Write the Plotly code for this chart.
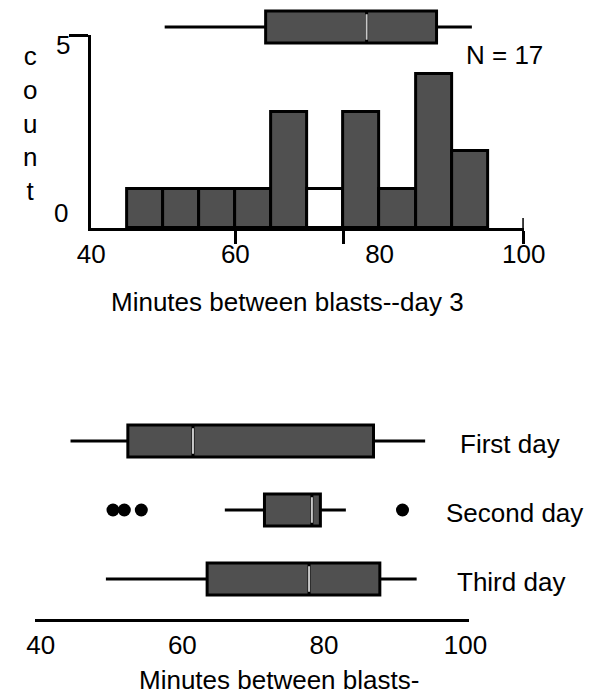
import plotly.graph_objects as go

# ---------------- data ----------------
# Histogram: Minutes between blasts -- day 3
bin_left = [45, 50, 55, 60, 65, 70, 75, 80, 85, 90]
bin_width = 5
counts = [1, 1, 1, 1, 3, 1, 3, 1, 4, 2]
outline_only_bins = [70]          # bin drawn as an empty outline in the original
n_label = "N = 17"

# Box plot above the histogram (day 3)
top_box = dict(lowerfence=50.2, q1=64.2, median=78.2, q3=87.9, upperfence=92.8)

# Box plots for the three days
days = ["First day", "Second day", "Third day"]
lower = [44.2, 66.0, 49.2]
q1 = [52.3, 71.6, 63.5]
median = [61.5, 78.3, 77.9]
q3 = [87.0, 79.5, 87.9]
upper = [94.3, 83.1, 93.1]
outlier_day = ["Second day", "Second day", "Second day", "Second day"]
outlier_val = [50.2, 51.8, 54.2, 91.1]

x_ticks = [40, 60, 80, 100]
hist_tick_marks = [60, 75, 100]

# ---------------- style ----------------
W, H = 606, 695
FONT = "Liberation Sans, Arial, Helvetica, sans-serif"
FS = 26
GRAY = "#505050"
MEDC = "#c8c8c8"


def px(x):
    return x / W


def py(y):
    return 1 - y / H


fig = go.Figure()

# histogram bars
centers = [b + bin_width / 2 for b in bin_left]
colors = ["white" if b in outline_only_bins else GRAY for b in bin_left]
fig.add_trace(go.Bar(
    x=centers, y=counts, width=[bin_width] * len(counts),
    marker=dict(color=colors, line=dict(color="black", width=3)),
    xaxis="x", yaxis="y", showlegend=False, hoverinfo="skip"))

# top box
TOP_W = 0.727
fig.add_trace(go.Box(
    y=[0], q1=[top_box["q1"]], median=[top_box["median"]], q3=[top_box["q3"]],
    lowerfence=[top_box["lowerfence"]], upperfence=[top_box["upperfence"]],
    orientation="h", width=TOP_W, whiskerwidth=0, boxpoints=False,
    fillcolor=GRAY, line=dict(color="black", width=3),
    xaxis="x", yaxis="y3", showlegend=False, hoverinfo="skip"))
fig.add_trace(go.Scatter(
    x=[top_box["median"]] * 2, y=[-TOP_W / 2 * 0.8, TOP_W / 2 * 0.8],
    mode="lines", line=dict(color=MEDC, width=2),
    xaxis="x", yaxis="y3", showlegend=False, hoverinfo="skip"))

# bottom boxes
BOX_W = 0.464
pos = list(range(len(days)))
fig.add_trace(go.Box(
    y=pos, q1=q1, median=median, q3=q3, lowerfence=lower, upperfence=upper,
    orientation="h", width=BOX_W, whiskerwidth=0, boxpoints=False,
    fillcolor=GRAY, line=dict(color="black", width=3),
    xaxis="x2", yaxis="y2", showlegend=False, hoverinfo="skip"))
mx, my = [], []
for i, m in enumerate(median):
    mx += [m, m, None]
    my += [i - BOX_W / 2 * 0.8, i + BOX_W / 2 * 0.8, None]
fig.add_trace(go.Scatter(
    x=mx, y=my, mode="lines", line=dict(color=MEDC, width=2),
    xaxis="x2", yaxis="y2", showlegend=False, hoverinfo="skip"))
fig.add_trace(go.Scatter(
    x=outlier_val, y=[days.index(d) for d in outlier_day], mode="markers",
    marker=dict(color="black", size=13),
    xaxis="x2", yaxis="y2", showlegend=False, hoverinfo="skip"))

axis_common = dict(showgrid=False, zeroline=False, linecolor="black", linewidth=3,
                   tickfont=dict(family=FONT, size=FS, color="black"))

# top histogram axes
fig.update_layout(
    xaxis=dict(domain=[px(82), px(542)], range=[40, 100], anchor="y",
               showline=True, tickmode="array", tickvals=x_ticks, ticks="",
               ticklabelstandoff=1,
               minor=dict(tickmode="array", tickvals=hist_tick_marks, ticks="outside",
                          ticklen=13, tickwidth=3, tickcolor="black"),
               **axis_common),
    yaxis=dict(domain=[py(228), py(35)], range=[0, 5], anchor="x",
               showline=True, tickmode="array", tickvals=[5], ticktext=[""],
               ticks="outside", ticklen=19, tickwidth=3, tickcolor="black",
               **axis_common),
    yaxis3=dict(domain=[py(49), py(5)], range=[-0.5, 0.5], anchor="x",
                visible=False, showgrid=False, zeroline=False),
    xaxis2=dict(domain=[px(22), px(484)], range=[39.14, 100.53], anchor="y2",
                showline=True, tickmode="array", tickvals=x_ticks, ticks="",
                ticklabelstandoff=1, **axis_common),
    yaxis2=dict(domain=[py(619), py(400)], range=[2.58, -0.594], anchor="x2",
                visible=False, showgrid=False, zeroline=False),
)

# 100 tick mark crossing the axis
fig.add_shape(type="line", xref="x", yref="paper", x0=100, x1=100,
              y0=py(228), y1=py(218), line=dict(color="black", width=3))

ann = []
def txt(t, x, y, **kw):
    d = dict(text=t, x=px(x), y=py(y), xref="paper", yref="paper", showarrow=False,
             xanchor="center", yanchor="middle",
             font=dict(family=FONT, size=FS, color="black"))
    d.update(kw)
    ann.append(d)

txt("c<br>o<br>u<br>n<br>t", 17, 124)
txt("5", 52, 45)
txt("0", 50, 213)
txt(n_label, 522, 55)
txt("Minutes between blasts--day 3", 291, 302)
txt("Minutes between blasts-", 281.5, 680)
label_x = [527, 532, 528]
for i, d in enumerate(days):
    ann.append(dict(text=d, x=px(label_x[i]), y=i, xref="paper", yref="y2",
                    showarrow=False, xanchor="center", yanchor="middle", yshift=-3,
                    font=dict(family=FONT, size=FS, color="black")))

fig.update_layout(
    annotations=ann,
    width=W, height=H, margin=dict(l=0, r=0, t=0, b=0),
    paper_bgcolor="white", plot_bgcolor="white",
    bargap=0, showlegend=False,
    font=dict(family=FONT, size=FS, color="black"),
)

fig.write_html("out.html")
